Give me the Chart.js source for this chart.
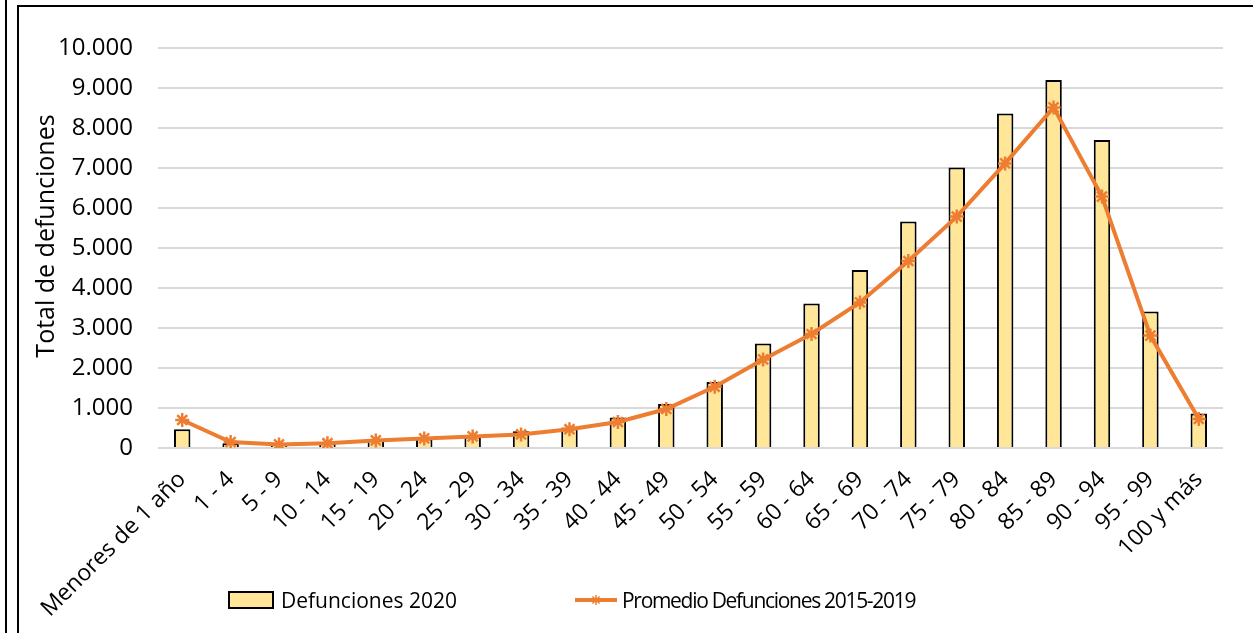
<!DOCTYPE html>
<html lang="es">
<head>
<meta charset="utf-8">
<title>Defunciones por edad</title>
<script src="https://cdn.jsdelivr.net/npm/chart.js@4.4.1/dist/chart.umd.min.js"></script>
<style>
    body { margin: 0; background: #fff; font-family: "Open Sans", sans-serif; }
    #marco { position: relative; width: 1253px; height: 633px; overflow: hidden; }
    #grafico { position: absolute; left: 0; top: 0; }
    .linea { position: absolute; background: #000; }
    #leyenda { position: absolute; left: 228px; top: 586px; display: flex; align-items: center; font-size: 21px; color: #000; white-space: nowrap; }
    .caja { width: 42px; height: 14px; background: #FFE699; border: 2px solid #000; margin-right: 7px; }
    .item { display: flex; align-items: center; }
    .estrecho { letter-spacing: -1.3px; }
</style>
</head>
<body>
<div id="marco">
    <canvas id="grafico" width="1253" height="633"></canvas>
    <div class="linea" style="left:5px;top:0;width:2px;height:633px"></div>
    <div class="linea" style="left:17px;top:5px;width:2px;height:628px"></div>
    <div class="linea" style="left:17px;top:5px;width:1236px;height:2px"></div>
    <div id="leyenda"></div>
</div>
<script>
const categorias = ["Menores de 1 año", "1 - 4", "5 - 9", "10 - 14", "15 - 19", "20 - 24", "25 - 29", "30 - 34",
    "35 - 39", "40 - 44", "45 - 49", "50 - 54", "55 - 59", "60 - 64", "65 - 69", "70 - 74", "75 - 79",
    "80 - 84", "85 - 89", "90 - 94", "95 - 99", "100 y más"];

const defunciones2020 = [470, 120, 60, 110, 200, 240, 290, 420, 510, 760, 1100, 1650, 2610, 3610, 4450,
    5660, 7010, 8360, 9200, 7700, 3410, 865];

const promedio = [700, 150, 90, 120, 190, 240, 290, 340, 470, 650, 975, 1530, 2215, 2850, 3640,
    4675, 5785, 7115, 8515, 6285, 2810, 725];

const etiquetasSeries = ["Defunciones 2020", "Promedio Defunciones 2015-2019"];
const tituloEjeY = "Total de defunciones";
const ejeY = { min: 0, max: 10000, paso: 1000 };

const naranja = "#ED7D31";
const amarillo = "#FFE699";

function formatoMiles(v) {
    return String(v).replace(/\B(?=(\d{3})+(?!\d))/g, ".");
}

// titulo del eje Y, Excel lo pone algo mas arriba que el centro
const tituloY = {
    id: "tituloY",
    afterDraw(chart) {
        const ctx = chart.ctx;
        ctx.save();
        ctx.translate(47, 236);
        ctx.rotate(-Math.PI / 2);
        ctx.font = "25px 'Open Sans'";
        ctx.fillStyle = "#000";
        ctx.textAlign = "center";
        ctx.textBaseline = "middle";
        ctx.fillText(tituloEjeY, 0, 0);
        ctx.restore();
    }
};

const ctx = document.getElementById("grafico").getContext("2d");
const grafico = new Chart(ctx, {
    type: "bar",
    data: {
        labels: categorias,
        datasets: [
            {
                label: etiquetasSeries[0],
                data: defunciones2020,
                backgroundColor: amarillo,
                borderColor: "#000",
                borderWidth: 2,
                barPercentage: 0.34,
                categoryPercentage: 1,
                order: 2
            },
            {
                type: "line",
                label: etiquetasSeries[1],
                data: promedio,
                borderColor: naranja,
                backgroundColor: naranja,
                borderWidth: 4,
                pointStyle: "star",
                pointRadius: 7,
                pointBorderWidth: 2.5,
                pointBorderColor: naranja,
                tension: 0,
                order: 1
            }
        ]
    },
    options: {
        responsive: false,
        animation: false,
        layout: { padding: { top: 48, right: 30, left: 0, bottom: 0 } },
        plugins: {
            legend: { display: false },
            tooltip: { enabled: false }
        },
        scales: {
            x: {
                grid: { display: false },
                border: { display: false },
                ticks: {
                    color: "#000",
                    font: { family: "Open Sans", size: 23 },
                    minRotation: 45,
                    maxRotation: 45,
                    padding: 10,
                    autoSkip: false
                },
                afterFit: (escala) => { escala.height = 185; }
            },
            y: {
                min: ejeY.min,
                max: ejeY.max,
                border: { display: false },
                grid: { color: "#d9d9d9", lineWidth: 2, drawTicks: false },
                ticks: {
                    stepSize: ejeY.paso,
                    color: "#000",
                    font: { family: "Open Sans", size: 24 },
                    padding: 25,
                    callback: (v) => formatoMiles(v)
                },
                afterFit: (escala) => { escala.width = 158; }
            }
        }
    },
    plugins: [tituloY]
});

// leyenda en HTML, Excel la deja algo a la izquierda y con mucho hueco
function crearLeyenda() {
    const leyenda = document.getElementById("leyenda");
    const ds = grafico.data.datasets;

    const item1 = document.createElement("div");
    item1.className = "item";
    item1.innerHTML = `<div class="caja"></div><span>${ds[0].label}</span>`;
    leyenda.appendChild(item1);

    const item2 = document.createElement("div");
    item2.className = "item";
    item2.style.marginLeft = "118px";
    const icono = document.createElement("canvas");
    icono.width = 42;
    icono.height = 20;
    icono.style.marginRight = "5px";
    const c = icono.getContext("2d");
    c.strokeStyle = naranja;
    c.lineWidth = 4;
    c.beginPath();
    c.moveTo(0, 10);
    c.lineTo(42, 10);
    c.stroke();
    if (Chart.helpers && Chart.helpers.drawPoint) {
        c.strokeStyle = naranja;
        c.lineWidth = 1.5;
        Chart.helpers.drawPoint(c, { pointStyle: "star", radius: 5, rotation: 0, borderWidth: 1.5 }, 21, 10);
    }
    item2.appendChild(icono);
    const texto = document.createElement("span");
    texto.className = "estrecho";
    texto.textContent = ds[1].label;
    item2.appendChild(texto);
    leyenda.appendChild(item2);
}

crearLeyenda();
</script>
</body>
</html>
